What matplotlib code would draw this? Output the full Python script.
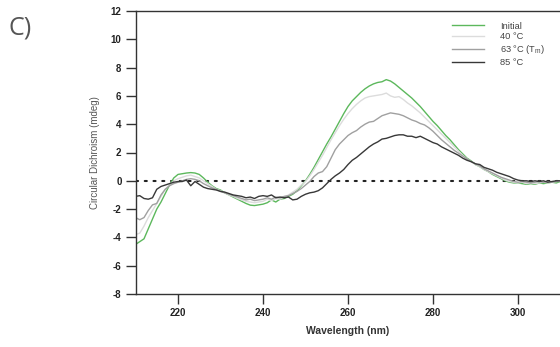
import numpy as np
import matplotlib
matplotlib.use('Agg')
import matplotlib.pyplot as plt

# CD spectra, 210-310 nm in 1 nm steps
wavelength = np.arange(210, 311)

initial = [
    -4.5, -4.3, -4.1, -3.4, -2.7, -2.0, -1.5, -0.9, -0.3, 0.2,
    0.45, 0.5, 0.55, 0.58, 0.55, 0.45, 0.2, -0.1, -0.35, -0.55,
    -0.65, -0.85, -1.0, -1.15, -1.3, -1.45, -1.6, -1.72, -1.75, -1.7,
    -1.65, -1.55, -1.35, -1.5, -1.3, -1.25, -1.1, -0.95, -0.7, -0.35,
    0.0, 0.45, 0.95, 1.5, 2.05, 2.6, 3.1, 3.65, 4.2, 4.75,
    5.25, 5.65, 5.95, 6.25, 6.5, 6.7, 6.85, 6.95, 7.0, 7.15,
    7.05, 6.85, 6.6, 6.35, 6.1, 5.85, 5.55, 5.25, 4.9, 4.55,
    4.2, 3.9, 3.55, 3.2, 2.9, 2.55, 2.2, 1.9, 1.6, 1.4,
    1.15, 1.0, 0.8, 0.65, 0.45, 0.3, 0.15, 0.0, -0.1, -0.15,
    -0.15, -0.2, -0.25, -0.2, -0.25, -0.15, -0.2, -0.15, -0.1, -0.15,
    -0.05]

t40 = [
    -3.8, -3.7, -3.2, -2.6, -2.1, -1.6, -1.1, -0.6, -0.3, 0.0,
    0.15, 0.25, 0.35, 0.4, 0.3, 0.2, 0.0, -0.2, -0.4, -0.6,
    -0.7, -0.85, -1.0, -1.1, -1.25, -1.35, -1.45, -1.5, -1.55, -1.5,
    -1.45, -1.3, -1.4, -1.25, -1.3, -1.15, -1.0, -0.8, -0.6, -0.3,
    -0.05, 0.35, 0.8, 1.3, 1.8, 2.35, 2.9, 3.4, 3.9, 4.35,
    4.75, 5.1, 5.4, 5.65, 5.85, 5.95, 6.0, 6.05, 6.1, 6.2,
    6.0, 5.9, 5.95, 5.75, 5.5, 5.3, 5.05, 4.8, 4.5, 4.2,
    3.9, 3.6, 3.3, 3.0, 2.7, 2.4, 2.1, 1.8, 1.55, 1.35,
    1.15, 1.0, 0.8, 0.65, 0.5, 0.35, 0.2, 0.05, -0.05, -0.1,
    -0.15, -0.1, -0.2, -0.15, -0.2, -0.15, -0.1, -0.15, -0.1, -0.05,
    -0.05]

t63 = [
    -2.6, -2.75, -2.6, -2.1, -1.7, -1.6, -1.0, -0.6, -0.35, -0.2,
    -0.1, 0.0, 0.1, 0.15, 0.1, 0.0, -0.2, -0.35, -0.5, -0.6,
    -0.75, -0.85, -0.95, -1.05, -1.15, -1.25, -1.35, -1.3, -1.4, -1.35,
    -1.3, -1.2, -1.3, -1.15, -1.2, -1.1, -1.05, -0.9, -0.75, -0.55,
    -0.3, -0.05, 0.3, 0.55, 0.65, 1.0, 1.6, 2.2, 2.6, 2.9,
    3.2, 3.4, 3.55, 3.8, 4.0, 4.15, 4.2, 4.4, 4.6, 4.7,
    4.8, 4.75, 4.7, 4.6, 4.45, 4.3, 4.2, 4.05, 3.95, 3.75,
    3.5, 3.2, 2.9, 2.65, 2.4, 2.15, 1.95, 1.75, 1.55, 1.35,
    1.2, 1.05, 0.85, 0.7, 0.55, 0.4, 0.25, 0.15, 0.05, -0.05,
    -0.1, -0.05, -0.1, -0.15, -0.1, -0.05, -0.1, -0.05, -0.1, -0.05,
    0.0]

t85 = [
    -1.1, -1.05, -1.25, -1.3, -1.2, -0.6, -0.4, -0.3, -0.2, -0.1,
    -0.05, -0.05, 0.05, -0.35, -0.05, -0.25, -0.45, -0.55, -0.6, -0.65,
    -0.75, -0.8, -0.9, -1.0, -1.05, -1.1, -1.2, -1.15, -1.25, -1.1,
    -1.05, -1.1, -1.0, -1.2, -1.15, -1.2, -1.15, -1.35, -1.3, -1.1,
    -0.95, -0.85, -0.8, -0.7, -0.5, -0.2, 0.1, 0.35, 0.55, 0.8,
    1.15, 1.45, 1.65, 1.9, 2.15, 2.4, 2.6, 2.75, 2.95, 3.0,
    3.1, 3.2, 3.25, 3.25, 3.15, 3.15, 3.05, 3.15, 3.0, 2.85,
    2.7, 2.6, 2.4, 2.25, 2.1, 1.95, 1.8, 1.6, 1.45, 1.35,
    1.2, 1.15, 0.95, 0.85, 0.75, 0.6, 0.5, 0.4, 0.3, 0.15,
    0.05, 0.0, 0.0, -0.05, 0.0, -0.05, 0.0, -0.1, -0.05, 0.0,
    0.0]

labels = ['Initial', '40 °C', '63 °C (T$_{\\mathregular{m}}$)', '85 °C']
colors = ['#5cb85c', '#dcdcdc', '#a0a0a0', '#383838']

plt.rcParams['font.family'] = ['Liberation Sans', 'DejaVu Sans']
plt.rcParams['axes.unicode_minus'] = False

fig = plt.figure(figsize=(5.6, 3.47), dpi=100)
ax = fig.add_axes([135.5 / 560, 53 / 347, 425 / 560, 283 / 347])

for series, lab, col in zip([initial, t40, t63, t85], labels, colors):
    ax.plot(wavelength, series, color=col, lw=1.0, label=lab)

ax.axhline(0, color='#222222', lw=1.5, linestyle=(0, (1, 3.2)),
           dash_capstyle='round', zorder=0)

ax.set_xlim(210, 310)
ax.set_ylim(-8, 12)
ax.set_xticks([220, 240, 260, 280, 300])
ax.set_yticks(np.arange(-8, 13, 2))

for side in ['left', 'bottom', 'top']:
    ax.spines[side].set_color('#333333')
    ax.spines[side].set_linewidth(1.0)
ax.spines['right'].set_visible(False)

ax.tick_params(axis='both', length=7, width=1.0, color='#333333',
               labelsize=7, labelcolor='#222222', pad=3)
for lbl in ax.get_xticklabels() + ax.get_yticklabels():
    lbl.set_fontweight('bold')

ax.set_xlabel('Wavelength (nm)', fontsize=7.5, fontweight='bold',
              color='#333333', labelpad=6)
ax.set_ylabel('Circular Dichroism (mdeg)', fontsize=7, color='#555555',
              labelpad=8)

leg = ax.legend(loc='upper left', bbox_to_anchor=((452 - 135.5) / 425, 0.962),
                frameon=False, fontsize=6.7, handlelength=3.4,
                handletextpad=1.8, labelspacing=0.18, borderpad=0,
                borderaxespad=0)
for txt in leg.get_texts():
    txt.set_color('#444444')

fig.text(9 / 560, 1 - 28 / 347, 'C)', fontsize=18, color='#555555',
         family=['Open Sans', 'DejaVu Sans'], va='center', ha='left')

fig.savefig('out.png', dpi=100)
